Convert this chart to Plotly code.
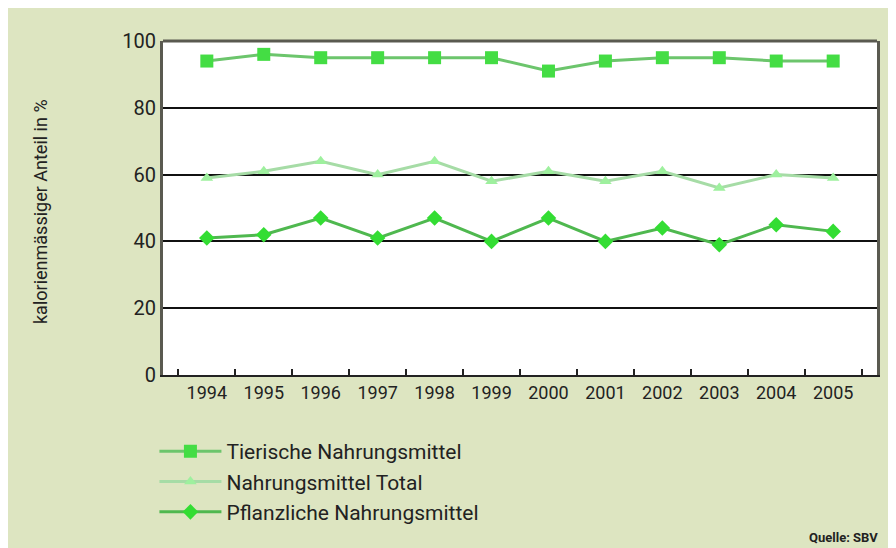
import plotly.graph_objects as go

years = ["1994", "1995", "1996", "1997", "1998", "1999", "2000", "2001", "2002", "2003", "2004", "2005"]
tierische = [94, 96, 95, 95, 95, 95, 91, 94, 95, 95, 94, 94]
total = [59, 61, 64, 60, 64, 58, 61, 58, 61, 56, 60, 59]
pflanzliche = [41, 42, 47, 41, 47, 40, 47, 40, 44, 39, 45, 43]
y_ticks = [0, 20, 40, 60, 80, 100]

FONT = "Liberation Sans Narrow, Arial Narrow, Roboto, sans-serif"
BG = "#dde5c1"

# figure is drawn 8px in from the page's top-left (body margin)
W, H = 888, 540
L, R, T, B = 155, 19, 33, 173
PW, PH = W - L - R, H - T - B

fig = go.Figure()
fig.add_trace(go.Scatter(
    x=years, y=tierische, name="Tierische Nahrungsmittel", mode="lines+markers",
    line=dict(color="#6cc56c", width=3),
    marker=dict(symbol="square", size=13, color="#44dd44", line=dict(width=0)),
))
fig.add_trace(go.Scatter(
    x=years, y=total, name="Nahrungsmittel Total", mode="lines+markers",
    line=dict(color="#a6dca6", width=3),
    marker=dict(symbol="triangle-up", size=11, color="#9ef09e", line=dict(width=0)),
))
fig.add_trace(go.Scatter(
    x=years, y=pflanzliche, name="Pflanzliche Nahrungsmittel", mode="lines+markers",
    line=dict(color="#4fb84f", width=3),
    marker=dict(symbol="diamond", size=12, color="#33dd33", line=dict(width=0)),
))

fig.update_layout(
    width=W, height=H,
    margin=dict(l=L, r=R, t=T, b=B),
    paper_bgcolor=BG, plot_bgcolor="white",
    font=dict(family=FONT, color="#222222"),
    showlegend=True,
    legend=dict(
        x=-0.012, y=-0.168, xanchor="left", yanchor="top",
        bgcolor="rgba(0,0,0,0)", font=dict(size=21, family=FONT, color="#222"),
        itemwidth=62, tracegroupgap=0,
    ),
    xaxis=dict(
        type="category", tickson="boundaries", ticks="inside", ticklen=6,
        tickcolor="#222", tickwidth=2, showgrid=False,
        showline=True, linecolor="#222", linewidth=2,
        tickfont=dict(size=18, family=FONT, color="#222"),
    ),
    yaxis=dict(
        range=[0, 100], tickvals=y_ticks, showgrid=True, gridcolor="#111", gridwidth=2,
        showline=True, linecolor="#5a5a50", linewidth=3, mirror=True,
        ticks="", zeroline=False,
        tickfont=dict(size=20, family=FONT, color="#222"),
    ),
    shapes=[
        dict(type="line", xref="paper", yref="paper", x0=0, x1=1, y0=1, y1=1,
             line=dict(color="#5a5a50", width=3)),
    ],
    annotations=[
        dict(text="kalorienmässiger Anteil in %", xref="paper", yref="paper",
             x=(32 - L) / PW, y=(T + PH - 204) / PH, textangle=-90,
             xanchor="center", yanchor="middle", showarrow=False,
             font=dict(size=18, family=FONT, color="#222")),
        dict(text="<b>Quelle: SBV</b>", xref="paper", yref="paper",
             x=(872 - L) / PW, y=(T + PH - 529) / PH,
             xanchor="right", yanchor="middle", showarrow=False,
             font=dict(size=13, family=FONT, color="#222")),
    ],
)

fig.write_html("out.html")
